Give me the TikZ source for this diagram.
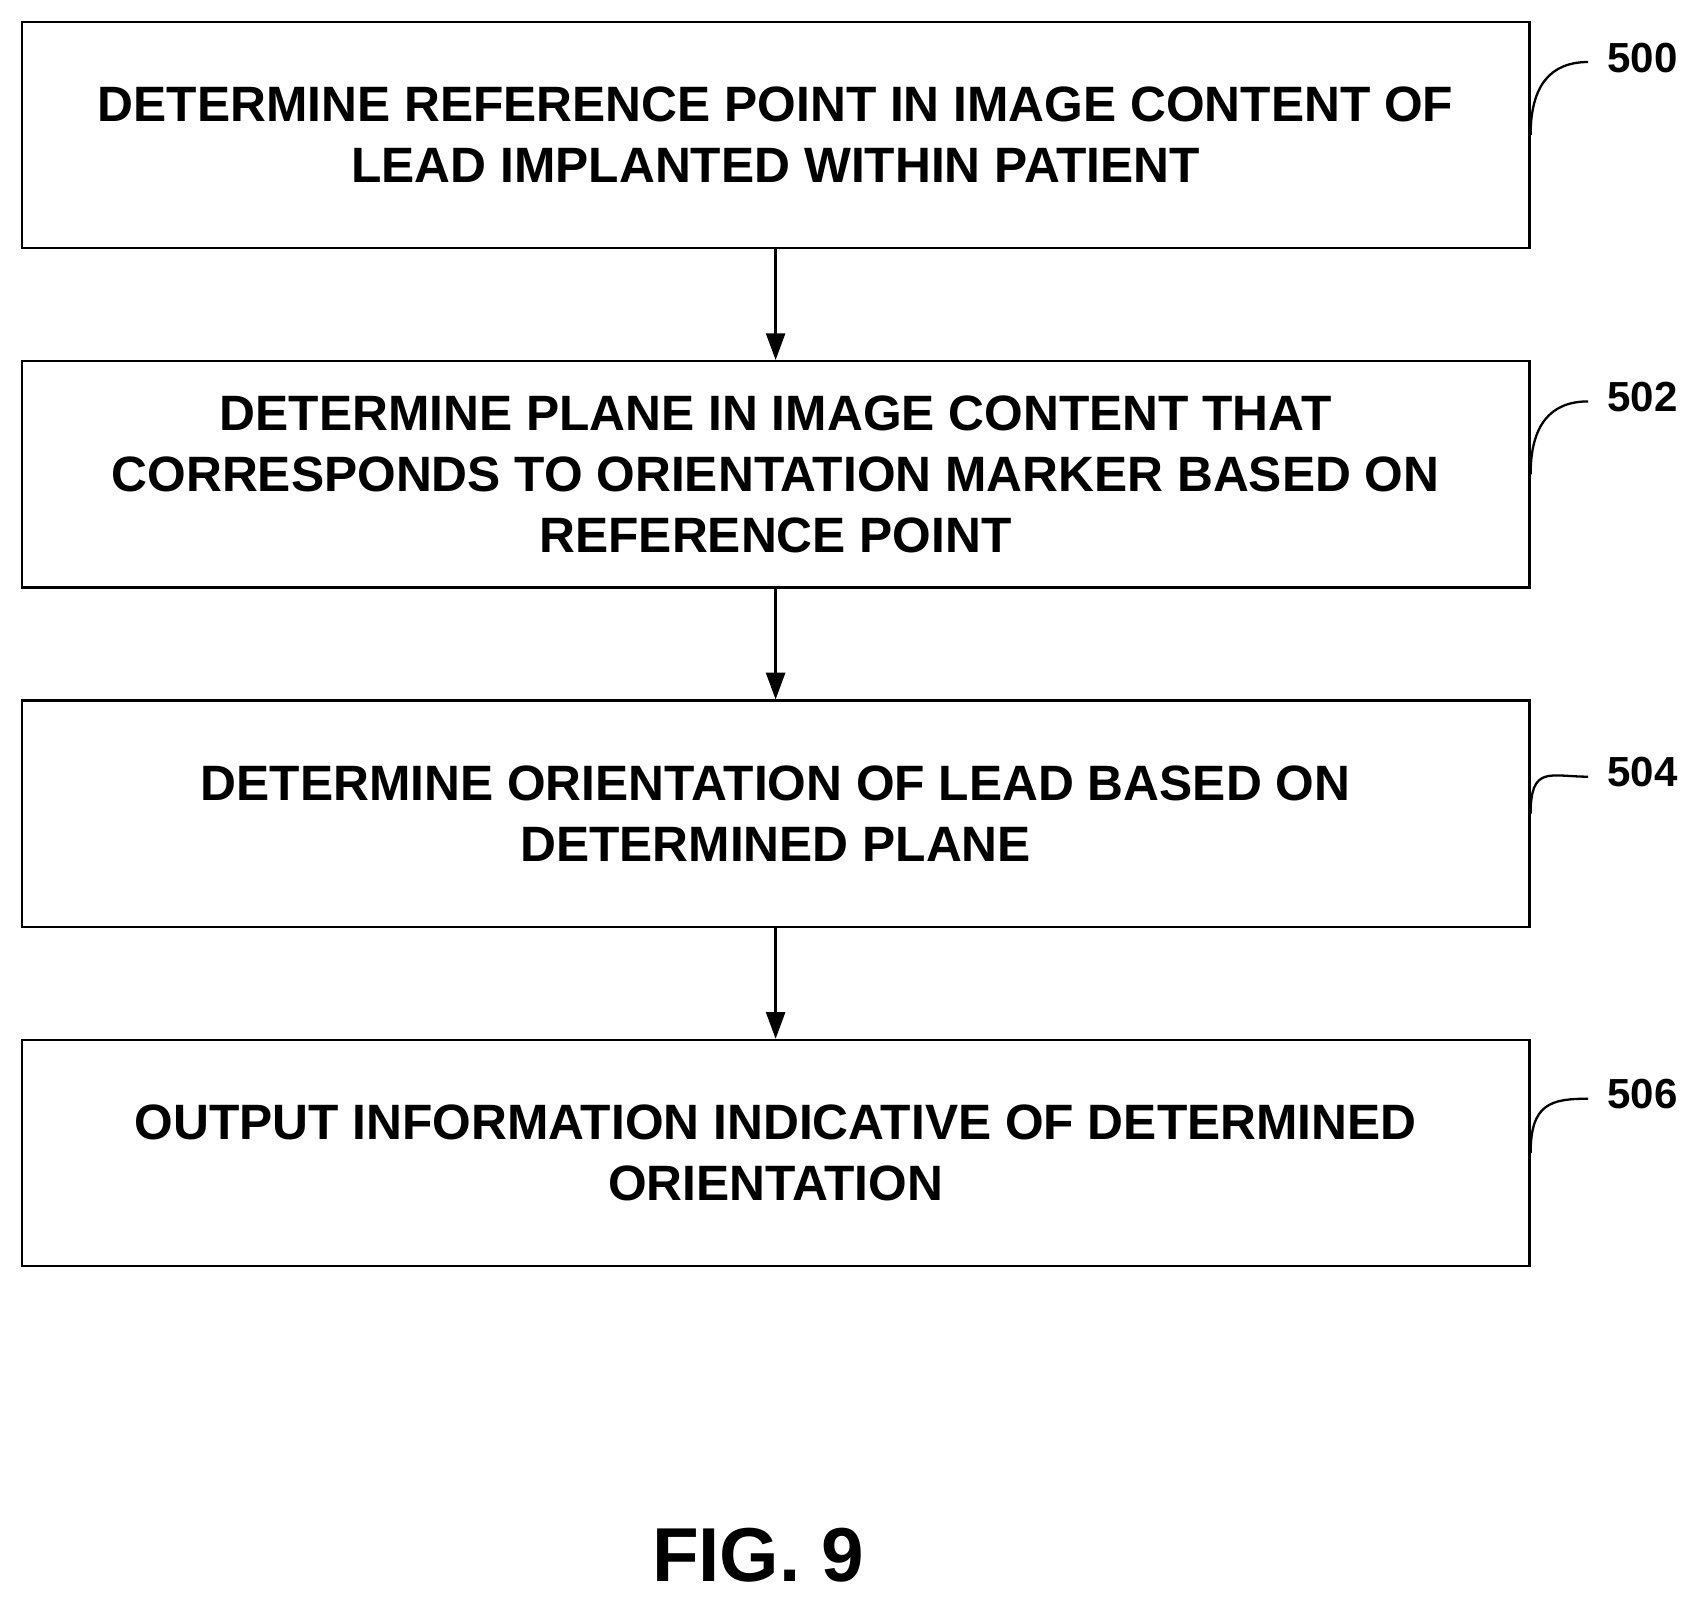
\documentclass[tikz,border=0pt]{standalone}
\usepackage{fontspec}
\setmainfont{Liberation Sans}
\usetikzlibrary{arrows.meta}
\begin{document}
\begin{tikzpicture}[x=0.02cm,y=-0.02cm,
 box/.style={draw,line width=1.2pt,minimum width=1386*0.02cm,minimum height=208*0.02cm,align=center,font=\fontsize{26}{32}\selectfont\bfseries,inner sep=0pt},
 lab/.style={font=\fontsize{22}{28}\selectfont\bfseries},
 arr/.style={line width=1.2pt,-{Triangle[length=14pt,width=10pt]}},
 lead/.style={line width=1.2pt}]
\useasboundingbox (0,0) rectangle (1560,1470);
\node[box] (b0) at (713,124) {DETERMINE REFERENCE POINT IN IMAGE CONTENT OF\\LEAD IMPLANTED WITHIN PATIENT};
\node[box] (b1) at (713,436) {DETERMINE PLANE IN IMAGE CONTENT THAT\\CORRESPONDS TO ORIENTATION MARKER BASED ON\\REFERENCE POINT};
\node[box] (b2) at (713,748) {DETERMINE ORIENTATION OF LEAD BASED ON\\DETERMINED PLANE};
\node[box] (b3) at (713,1060) {OUTPUT INFORMATION INDICATIVE OF DETERMINED\\ORIENTATION};
\draw[arr] (b0) -- (b1);
\draw[arr] (b1) -- (b2);
\draw[arr] (b2) -- (b3);
\foreach \n/\t/\y in {b0/500/53,b1/502/365,b2/504/710,b3/506/1006}{
 \node[lab] (l\t) at (1510,\y) {\t};
 \coordinate (c\t) at (1460,\y+4);
 \draw[lead] (\n.east) .. controls +(0,-45) and +(-35,0) .. (c\t);
}
\node[font=\fontsize{40}{48}\selectfont\bfseries] (fig) at (697,1430) {FIG. 9};
\end{tikzpicture}
\end{document}
